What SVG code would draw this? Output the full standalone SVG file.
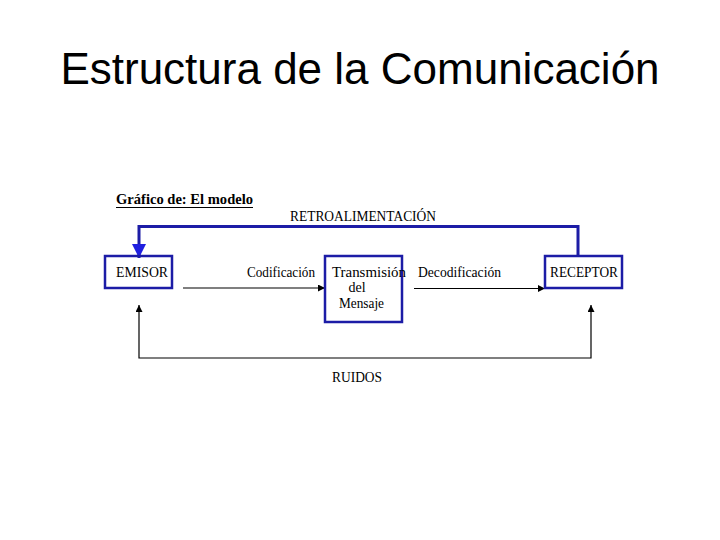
<svg xmlns="http://www.w3.org/2000/svg" width="720" height="540" viewBox="0 0 720 540">
<style>
.t{font-family:"Liberation Serif","Times New Roman",serif;font-size:14px;fill:#000}
.box{fill:none;stroke:#1c1ca6;stroke-width:2.5}
.fb{fill:none;stroke:#1c1ca6;stroke-width:3}
.ln{fill:none;stroke:#000;stroke-width:1.2}
</style>
<defs>
<marker id="ah" viewBox="0 0 10 10" refX="10" refY="5" markerWidth="8" markerHeight="7" markerUnits="userSpaceOnUse" orient="auto-start-reverse">
<path d="M0,0 L10,5 L0,10 Z" fill="#000"/>
</marker>
<marker id="bh" viewBox="0 0 10 10" refX="10" refY="5" markerWidth="15" markerHeight="14" markerUnits="userSpaceOnUse" orient="auto">
<path d="M0,0 L10,5 L0,10 Z" fill="#1f1fe0"/>
</marker>
</defs>
<rect width="720" height="540" fill="#fff"/>
<text x="360" y="84" text-anchor="middle" font-family="Liberation Sans, Arial, sans-serif" font-size="44" fill="#000">Estructura de la Comunicación</text>
<g id="caption">
<text x="116" y="204" class="t" font-weight="bold" textLength="137" lengthAdjust="spacingAndGlyphs">Gráfico de: El modelo</text>
<line x1="116" y1="207.5" x2="253" y2="207.5" stroke="#000" stroke-width="1.2"/>
</g>
<g id="connectors">
<path class="fb" d="M578,256 V226.5 H139 V258" marker-end="url(#bh)"/>
<text x="290" y="221" class="t" textLength="146" lengthAdjust="spacingAndGlyphs">RETROALIMENTACIÓN</text>
<line class="ln" x1="183" y1="288" x2="325" y2="288" marker-end="url(#ah)"/>
<text x="247" y="277" class="t" textLength="68" lengthAdjust="spacingAndGlyphs">Codificación</text>
<line class="ln" x1="414" y1="288.5" x2="545" y2="288.5" marker-end="url(#ah)"/>
<text x="418" y="277" class="t" textLength="83" lengthAdjust="spacingAndGlyphs">Decodificación</text>
<path class="ln" d="M139,305 V358 H591 V305" marker-start="url(#ah)" marker-end="url(#ah)"/>
<text x="332" y="382" class="t" textLength="50" lengthAdjust="spacingAndGlyphs">RUIDOS</text>
</g>
<g id="emisor">
<rect class="box" x="105" y="256" width="67" height="32"/>
<text x="116" y="277" class="t" textLength="52" lengthAdjust="spacingAndGlyphs">EMISOR</text>
</g>
<g id="transmision">
<rect class="box" x="325" y="256" width="77" height="66"/>
<text x="332" y="277" class="t" textLength="74" lengthAdjust="spacingAndGlyphs">Transmisión</text>
<text x="357" y="292" class="t" text-anchor="middle">del</text>
<text x="339" y="308" class="t" textLength="45" lengthAdjust="spacingAndGlyphs">Mensaje</text>
</g>
<g id="receptor">
<rect class="box" x="545" y="256" width="77" height="32"/>
<text x="550" y="277" class="t" textLength="68" lengthAdjust="spacingAndGlyphs">RECEPTOR</text>
</g>
</svg>
